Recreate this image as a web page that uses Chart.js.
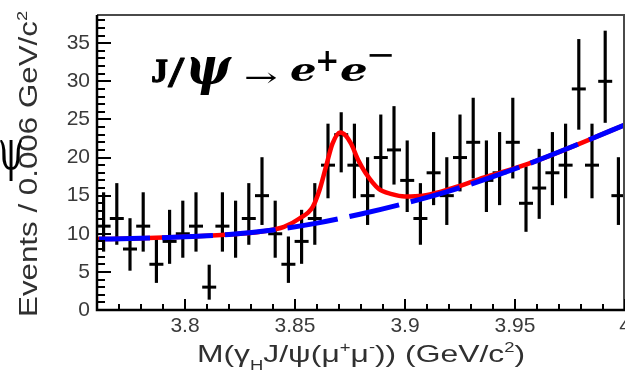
<!DOCTYPE html>
<html><head><meta charset="utf-8">
<script src="https://cdn.jsdelivr.net/npm/chart.js@4.4.0/dist/chart.umd.min.js"></script>
<style>html,body{margin:0;padding:0;background:#fff;overflow:hidden}</style>
</head><body>
<canvas id="c" width="625" height="377"></canvas>
<script>
// ---- data ----
const binCenters = [3.763,3.769,3.775,3.781,3.787,3.793,3.799,3.805,3.811,3.817,3.823,3.829,3.835,3.841,3.847,3.853,3.859,3.865,3.871,3.877,3.883,3.889,3.895,3.901,3.907,3.913,3.919,3.925,3.931,3.937,3.943,3.949,3.955,3.961,3.967,3.973,3.979,3.985,3.991,3.997];
const counts = [11,12,8,11,6,9,10,11,3,11,10,12,15,10,6,9,12,19,23,19,15,20,21,17,12,18,15,20,22,17,18,22,14,16,18,19,29,19,30,15];
const errLow = [7.7,8.6,5.2,7.7,3.6,6.1,6.9,7.7,1.4,7.7,6.9,8.6,11.2,6.9,3.6,6.1,8.6,14.7,18.1,14.7,11.2,15.6,16.5,12.9,8.6,13.8,11.2,15.6,17.3,12.9,13.8,17.3,10.3,12.0,13.8,14.7,23.7,14.7,24.6,11.2];
const errHigh = [15.4,16.6,12.0,15.4,9.6,13.1,14.3,15.4,5.9,15.4,14.3,16.6,20.0,14.3,9.6,13.1,16.6,24.4,25.9,24.4,20.0,25.6,26.7,22.2,16.6,23.3,20.0,25.6,27.8,22.2,23.3,27.8,18.8,21.1,23.3,24.4,35.5,24.4,36.6,20.0];
const bgX = [3.76,3.78,3.80,3.82,3.84,3.86,3.88,3.90,3.92,3.94,3.96,3.98,4.00];
const bgY = [9.3,9.4,9.6,9.9,10.5,11.4,12.6,14.0,15.6,17.5,19.6,21.9,24.3];
const totX = [3.76,3.78,3.80,3.82,3.835,3.845,3.852,3.858,3.861,3.864,3.867,3.8705,3.873,3.8755,3.879,3.882,3.888,3.894,3.900,3.908,3.916,3.924,3.936,3.95,3.96,3.98,4.00];
const totY = [9.3,9.4,9.6,9.9,10.3,10.9,12.0,13.5,15.6,18.7,21.8,23.3,22.9,21.8,19.5,18.0,15.9,15.2,14.9,15.0,15.5,16.2,17.4,18.6,19.6,21.9,24.3];
const xTickLabels = [3.8,3.85,3.9,3.95,4];
const yTickLabels = [0,5,10,15,20,25,30,35];

const X_MIN = 3.76, X_MAX = 4.0, Y_MIN = 0, Y_MAX = 38.7;

function fitText(ctx, text, font, box, color, strokeW) {
  ctx.save();
  ctx.font = font;
  const m = ctx.measureText(text);
  const w = m.actualBoundingBoxLeft + m.actualBoundingBoxRight;
  const h = m.actualBoundingBoxAscent + m.actualBoundingBoxDescent;
  const [x0, y0, x1, y1] = box;
  const sx = (x1 - x0) / w, sy = (y1 - y0) / h;
  ctx.translate(x0, y0);
  ctx.scale(sx, sy);
  ctx.fillStyle = color;
  ctx.textAlign = 'left';
  ctx.textBaseline = 'alphabetic';
  ctx.fillText(text, m.actualBoundingBoxLeft, m.actualBoundingBoxAscent);
  if (strokeW) {
    ctx.strokeStyle = color;
    ctx.lineWidth = strokeW / Math.min(sx, sy);
    ctx.lineJoin = 'round';
    ctx.strokeText(text, m.actualBoundingBoxLeft, m.actualBoundingBoxAscent);
  }
  ctx.restore();
}

function drawRich(ctx, parts, size, family, x, y, targetW, rot, color) {
  ctx.save();
  const fnt = (s) => s + 'px ' + family;
  let total = 0;
  parts.forEach(p => {
    const s = p.sub || p.sup ? size * 0.58 : size;
    ctx.font = fnt(s);
    p.w = ctx.measureText(p.t).width;
    p.s = s;
    total += p.w;
  });
  ctx.translate(x, y);
  if (rot) ctx.rotate(rot);
  ctx.scale(targetW / total, 1);
  ctx.fillStyle = color;
  ctx.textBaseline = 'alphabetic';
  ctx.textAlign = 'left';
  let cx = 0;
  parts.forEach(p => {
    ctx.font = fnt(p.s);
    let dy = 0;
    if (p.sub) dy = size * 0.32;
    if (p.sup) dy = -size * 0.42;
    ctx.fillText(p.t, cx, dy);
    cx += p.w;
  });
  ctx.restore();
}

const decor = {
  id: 'decor',
  afterDraw(chart) {
    const ctx = chart.ctx;
    const xs = chart.scales.x, ys = chart.scales.y;
    const a = chart.chartArea;
    ctx.save();
    // frame top/right
    ctx.strokeStyle = '#4a4a4a';
    ctx.lineWidth = 2;
    ctx.beginPath();
    ctx.moveTo(a.left, a.top); ctx.lineTo(a.right - 1, a.top); ctx.lineTo(a.right - 1, a.bottom);
    ctx.stroke();
    // ticks
    ctx.strokeStyle = '#000';
    ctx.lineWidth = 2;
    ctx.beginPath();
    for (let v = 0; v <= 38; v++) {
      const py = Math.round(ys.getPixelForValue(v));
      const len = v % 5 === 0 ? 14 : 8;
      ctx.moveTo(a.left, py); ctx.lineTo(a.left + len, py);
    }
    for (let k = 377; k <= 400; k++) {
      const px = Math.round(xs.getPixelForValue(k / 100));
      const len = k % 5 === 0 ? 11 : 6;
      ctx.moveTo(px, a.bottom); ctx.lineTo(px, a.bottom - len);
    }
    ctx.stroke();
    // axes
    ctx.lineWidth = 2.5;
    ctx.beginPath();
    ctx.moveTo(a.left, a.top); ctx.lineTo(a.left, a.bottom); ctx.lineTo(a.right, a.bottom);
    ctx.stroke();
    ctx.restore();

    // x-axis title
    drawRich(ctx, [
      {t: 'M(\u03B3'}, {t: 'H', sub: true}, {t: 'J/\u03C8(\u03BC'}, {t: '+', sup: true},
      {t: '\u03BC'}, {t: '-', sup: true}, {t: ')) (GeV/c'}, {t: '2', sup: true}, {t: ')'}
    ], 24, '"Liberation Sans", Arial, sans-serif', 197, 362, 328, 0, '#303030');
    // y-axis title
    drawRich(ctx, [
      {t: 'Events / 0.006 GeV/c'}, {t: '2', sup: true}
    ], 25, '"Liberation Sans", Arial, sans-serif', 37, 317, 306, -Math.PI / 2, '#303030');

    // annotation J/psi -> e+e-
    const B = 'bold 40px "DejaVu Serif", serif';
    const BI = 'italic bold 40px "DejaVu Serif", serif';
    const R = '40px "DejaVu Serif", serif';
    const TB = 'bold 40px "Liberation Serif", serif';
    fitText(ctx, 'J', TB, [152, 60, 167, 82], '#000', 1.3);
    fitText(ctx, '/', TB, [167, 58, 185, 87], '#000', 0.8);
    fitText(ctx, '\u03C8', BI, [189, 58, 232, 94], '#000');
    fitText(ctx, '\u2192', R, [246, 72, 277, 83], '#000');
    fitText(ctx, 'e', BI, [291, 65, 315, 82], '#000');
    fitText(ctx, '+', B, [318, 51, 337, 71], '#000');
    fitText(ctx, 'e', BI, [341, 65, 366, 82], '#000');
    fitText(ctx, '\u2212', B, [369, 54, 392, 57], '#000');
    // stray psi at left edge
    fitText(ctx, '\u03C8', '40px "DejaVu Serif", serif', [0, 141, 22, 180], '#000');
  }
};

const labelFont = {family: '"Liberation Sans", Arial, sans-serif', size: 21};

new Chart(document.getElementById('c'), {
  type: 'scatter',
  data: {
    datasets: [
      {
        type: 'line', label: 'background', order: 0,
        data: bgX.map((x, i) => ({x, y: bgY[i]})),
        borderColor: 'rgb(0,0,255)', borderWidth: 5, borderDash: [51, 12], borderDashOffset: -2,
        pointRadius: 0, cubicInterpolationMode: 'monotone', fill: false
      },
      {
        type: 'line', label: 'total fit', order: 1,
        data: totX.map((x, i) => ({x, y: totY[i]})),
        borderColor: 'rgb(255,0,0)', borderWidth: 4.5,
        pointRadius: 0, cubicInterpolationMode: 'monotone', fill: false
      },
      {
        type: 'scatter', label: 'data', order: 2,
        data: binCenters.map((x, i) => ({x, y: counts[i]})),
        pointStyle: 'line', pointRadius: 7, borderColor: '#000', borderWidth: 3,
        pointHoverRadius: 7
      },
      {
        type: 'bar', label: 'errors', order: 3,
        data: binCenters.map((x, i) => ({x, y: [errLow[i], errHigh[i]]})),
        backgroundColor: '#000', barThickness: 2.5, borderWidth: 0
      }
    ]
  },
  options: {
    responsive: false, animation: false, devicePixelRatio: 1,
    layout: {autoPadding: false, padding: {top: 15, left: 0, right: 0, bottom: 0}},
    plugins: {legend: {display: false}, tooltip: {enabled: false}},
    scales: {
      x: {
        type: 'linear', min: X_MIN, max: X_MAX, offset: false,
        grid: {display: false, drawTicks: false}, border: {display: false},
        ticks: {font: labelFont, color: '#3a3a3a', padding: 4, maxRotation: 0, autoSkip: false,
                callback: v => String(v)},
        afterBuildTicks: s => { s.ticks = xTickLabels.map(v => ({value: v})); },
        afterFit: s => { s.height = 67; s.paddingLeft = 0; s.paddingRight = 0; }
      },
      y: {
        type: 'linear', min: Y_MIN, max: Y_MAX,
        grid: {display: false, drawTicks: false}, border: {display: false},
        ticks: {font: labelFont, color: '#3a3a3a', padding: 7, callback: v => String(v)},
        afterBuildTicks: s => { s.ticks = yTickLabels.map(v => ({value: v})); },
        afterFit: s => { s.width = 97; s.paddingTop = 0; s.paddingBottom = 0; }
      }
    }
  },
  plugins: [decor]
});
</script>
</body></html>
